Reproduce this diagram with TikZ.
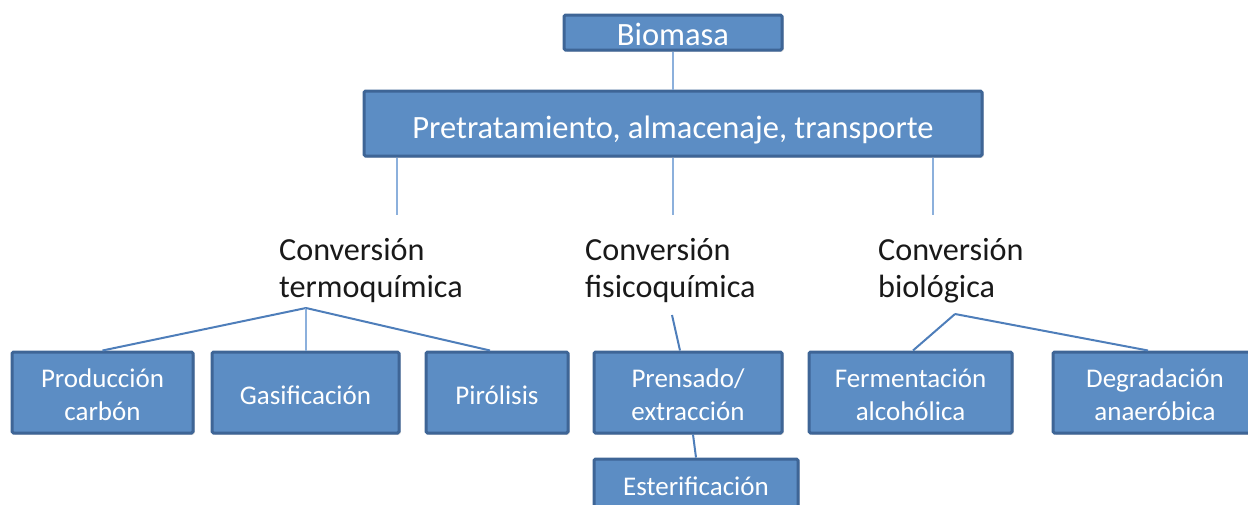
\documentclass[tikz,border=0pt]{standalone}
\usepackage{fontspec}
\setmainfont{Carlito}
\usetikzlibrary{shadows,calc}
\definecolor{boxfill}{RGB}{92,141,196}
\definecolor{boxline}{RGB}{62,101,150}
\definecolor{linkdark}{RGB}{78,126,186}
\definecolor{linklight}{RGB}{140,176,220}
\definecolor{headtext}{RGB}{25,25,25}
\tikzset{
  bluebox/.style={draw=boxline, line width=3pt, fill=boxfill, rounded corners=1.5pt,
    text=white, inner sep=0pt, align=center,
    drop shadow={shadow xshift=1.5pt, shadow yshift=-1.5pt, opacity=0.3, fill=black!70}},
  topfont/.style={font=\fontsize{32.5}{36}\selectfont},
  lowfont/.style={font=\fontsize{27}{33}\selectfont},
  oneline/.style={text height=23pt, text depth=0pt},
  twoline/.style={text height=55pt, text depth=0pt},
  heading/.style={anchor=base west, align=left, inner sep=0pt, text=headtext,
    font=\fontsize{32.2}{37}\selectfont},
  vlink/.style={draw=linklight, line width=2pt},
  dlink/.style={draw=linkdark, line width=2pt}
}
\begin{document}
\begin{tikzpicture}[x=1pt,y=-1pt]
\useasboundingbox (0,0) rectangle (1248,504);
% top boxes
\node[bluebox, topfont, minimum width=218pt, minimum height=35pt, text height=25pt, text depth=0pt] (bio) at (673,32.5) {Biomasa};
\node[bluebox, topfont, minimum width=618pt, minimum height=65pt, text height=29pt, text depth=0pt] (pre) at (673,123.5) {Pretratamiento, almacenaje, transporte};
% headings (anchor = baseline of the last line)
\node[heading] (termo) at (279,297) {Conversión\\termoquímica};
\node[heading] (fisico) at (585,297) {Conversión\\fisicoquímica};
\node[heading] (biol) at (878,297) {Conversión\\biológica};
% bottom boxes
\node[bluebox, lowfont, twoline, minimum width=181pt, minimum height=81pt] (prod) at (102.5,392.5) {Producción\\carbón};
\node[bluebox, lowfont, oneline, minimum width=187pt, minimum height=81pt] (gas) at (305.5,392.5) {Gasificación};
\node[bluebox, lowfont, oneline, minimum width=142pt, minimum height=81pt] (pir) at (497,392.5) {Pirólisis};
\node[bluebox, lowfont, twoline, minimum width=188pt, minimum height=81pt] (pren) at (688,392.5) {Prensado/\\extracción};
\node[bluebox, lowfont, twoline, minimum width=203pt, minimum height=81pt] (ferm) at (910.5,392.5) {Fermentación\\alcohólica};
\node[bluebox, lowfont, twoline, minimum width=204pt, minimum height=81pt] (deg) at (1155,392.5) {Degradación\\anaeróbica};
\node[bluebox, lowfont, minimum width=204pt, minimum height=56pt, text height=16pt, text depth=0pt] (est) at (696,487) {Esterificación};
% connector end points
\coordinate (c1) at (397,215);
\coordinate (c2) at (673,215);
\coordinate (c3) at (933,215);
\coordinate (tq) at (306,308);
\coordinate (fq) at (672,315);
\coordinate (bq) at (955,314);
% connectors
\draw[vlink] (bio.south) -- (pre.north);
\draw[vlink] (pre.south -| c1) -- (c1);
\draw[vlink] (pre.south -| c2) -- (c2);
\draw[vlink] (pre.south -| c3) -- (c3);
\draw[dlink] (tq) -- (prod.north);
\draw[vlink] (tq) -- (gas.north -| tq);
\draw[dlink] (tq) -- ($(pir.north)+(-7,0)$);
\draw[dlink] (fq) -- ($(pren.north)+(-8,0)$);
\draw[dlink] ($(pren.south)+(5,0)$) -- (est.north);
\draw[dlink] (bq) -- ($(ferm.north)+(2.5,0)$);
\draw[dlink] (bq) -- ($(deg.north)+(-7,0)$);
\end{tikzpicture}
\end{document}
